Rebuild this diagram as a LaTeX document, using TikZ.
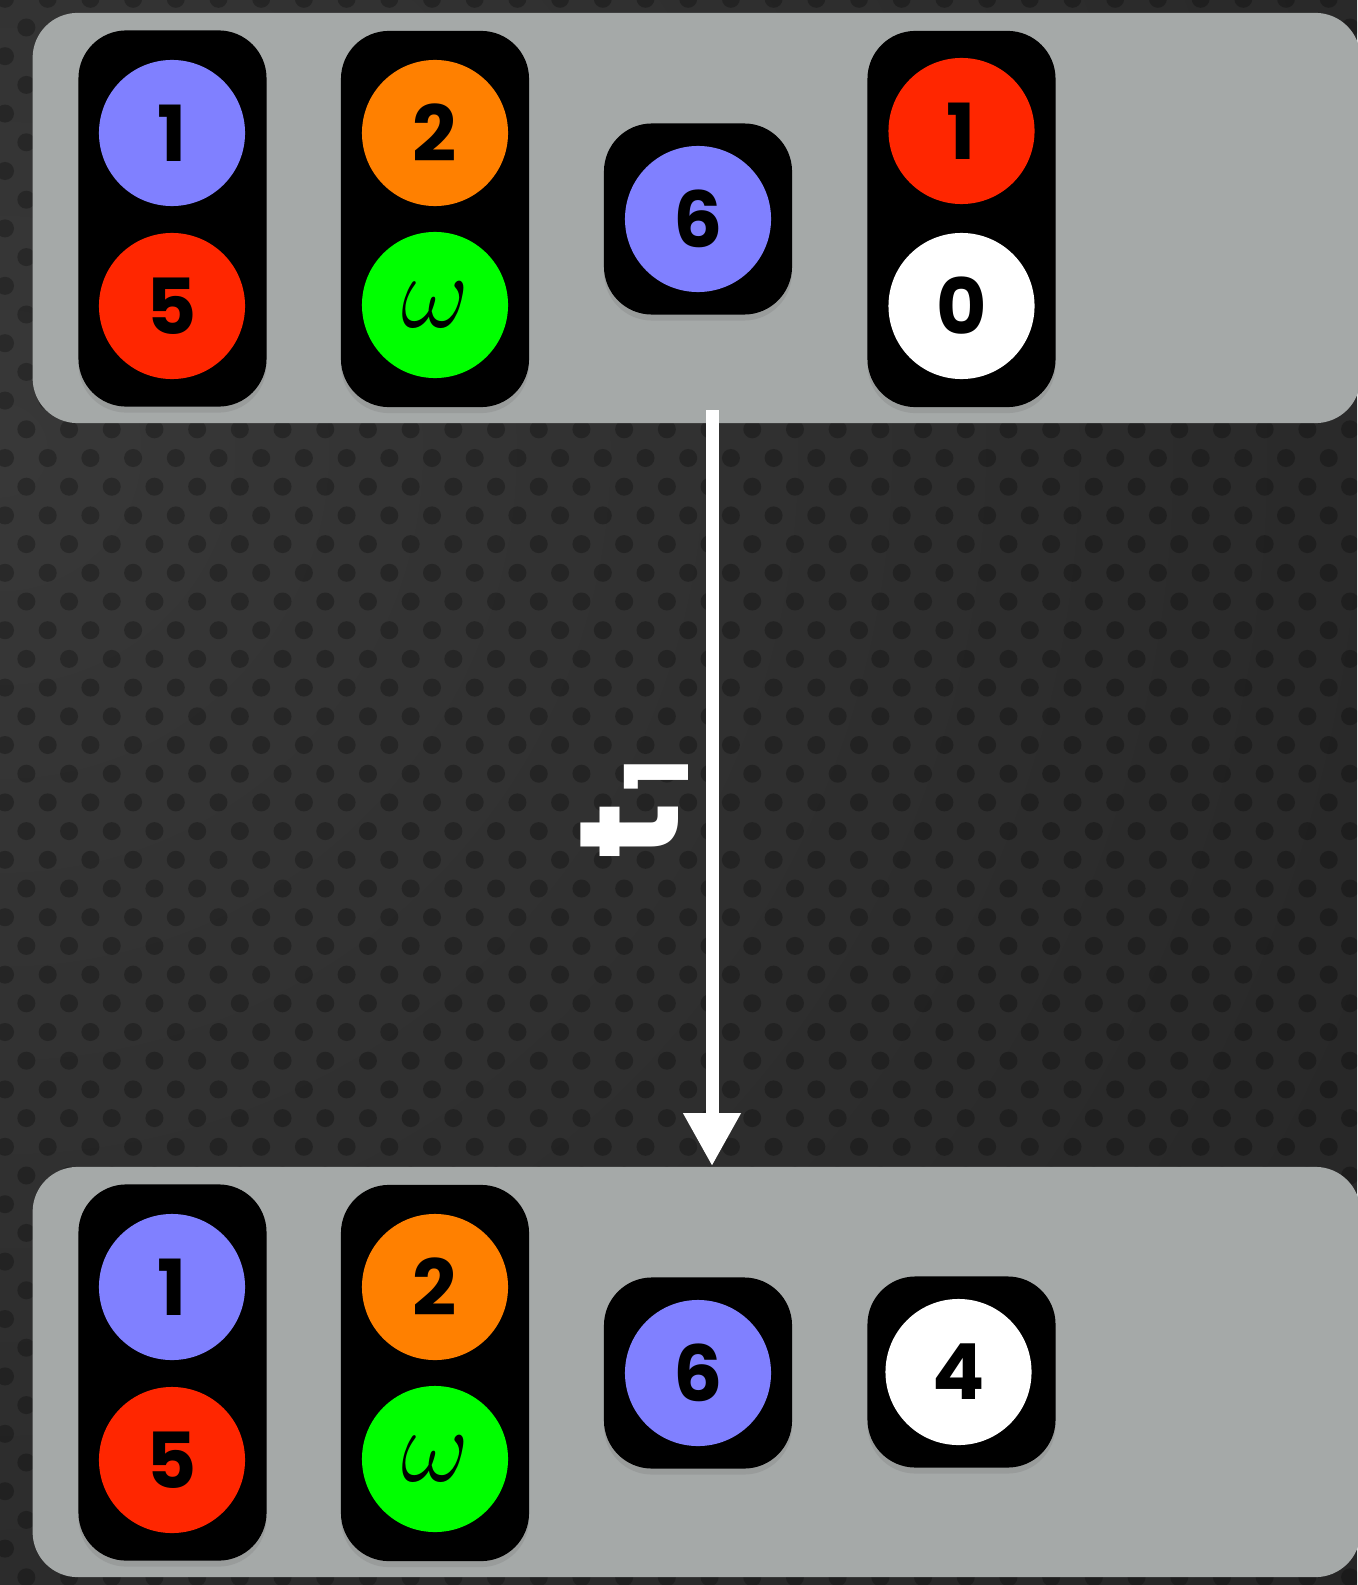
\documentclass[tikz,border=0pt]{standalone}
\usepackage{fontspec}
\usepackage{tikz}
\usetikzlibrary{arrows.meta}
\usetikzlibrary{shadows}
\newfontfamily\numfont{Poppins}
\definecolor{panelgray}{HTML}{A5A9A8}
\definecolor{tokblue}{HTML}{8080FF}
\definecolor{tokred}{HTML}{FF2600}
\definecolor{tokorange}{HTML}{FF8000}
\definecolor{tokgreen}{HTML}{00FF00}
\definecolor{bglight}{HTML}{383838}
\definecolor{bgdark}{HTML}{181818}
\begin{document}
\begin{tikzpicture}[x=0.01cm,y=-0.01cm,
  panel/.style={fill=panelgray, rounded corners=0.45cm, inner sep=0pt, minimum width=13.27cm, minimum height=4.10cm},
  tray/.style={fill=black, rounded corners=0.48cm, inner sep=0pt, minimum width=1.88cm,
    drop shadow={shadow xshift=0pt, shadow yshift=-0.06cm, opacity=0.3}},
  tall/.style={tray, minimum height=3.76cm},
  short/.style={tray, minimum height=1.91cm},
  token/.style={circle, inner sep=0pt, minimum size=1.46cm, font=\numfont\bfseries\fontsize{22}{22}\selectfont},
  greek/.style={font=\fontsize{24.88}{25}\selectfont},
  flow/.style={white, line width=0.13cm, -{Triangle[width=0.54cm,length=0.53cm]}},
  lbl/.style={white, inner sep=0pt, font=\numfont\bfseries\fontsize{40}{40}\selectfont},
  dot/.style={fill=black, opacity=0.25}]
% background
\useasboundingbox (0,0) rectangle (1357,1585);
\begin{scope}
\clip (0,0) rectangle (1357,1585);
\shade[inner color=bglight, outer color=bgdark] (0,450) circle (30cm);
\foreach \r in {0,...,56}
  \foreach \c in {0,...,32}
    \fill[dot] ({42.7*\c+mod(\r,2)*21.35+5},{28.7*\r-1.2}) circle (0.09cm);
\end{scope}
% panels
\node[panel] (upper) at (696.5,218) {};
\node[panel] (lower) at (696.5,1372) {};
% upper panel
\node[tall] (tray1) at (172.5,218.5) {};
\node[tall] (tray2) at (435,219) {};
\node[short] (tray3) at (698,219) {};
\node[tall] (tray4) at (961.5,219) {};
\node[token, fill=tokblue] (one) at (172,133) {1};
\node[token, fill=tokred] (five) at (172,306) {5};
\node[token, fill=tokorange] (two) at (435,133) {2};
\node[token, greek, fill=tokgreen] (omega) at (435,305) {\scalebox{1.2}{$\omega$}};
\node[token, fill=tokblue] (six) at (698,219) {6};
\node[token, fill=tokred] (oneb) at (961.5,131) {1};
\node[token, fill=white] (zero) at (961.5,306) {0};
% lower panel
\node[tall] (ntray1) at (172.5,1372.5) {};
\node[tall] (ntray2) at (435,1373) {};
\node[short] (ntray3) at (698,1373) {};
\node[short] (ntray4) at (961.5,1372) {};
\node[token, fill=tokblue] (none) at (172,1287) {1};
\node[token, fill=tokred] (nfive) at (172,1460) {5};
\node[token, fill=tokorange] (ntwo) at (435,1287) {2};
\node[token, greek, fill=tokgreen] (nomega) at (435,1459) {\scalebox{1.2}{$\omega$}};
\node[token, fill=tokblue] (nsix) at (698,1373) {6};
\node[token, fill=white] (nfour) at (958.5,1372) {4};
% transition
\coordinate (src) at (712,410);
\draw[flow] (src) -- (src |- lower.north);
\node[lbl, rotate=90, anchor=base west] (tname) at (678,860) {t\kern3pt\raisebox{-3pt}{\fontsize{25}{25}\selectfont 1}};
\end{tikzpicture}
\end{document}
